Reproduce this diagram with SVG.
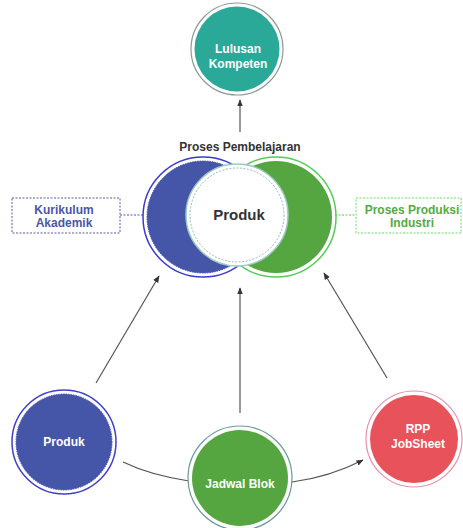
<svg xmlns="http://www.w3.org/2000/svg" width="463" height="528" viewBox="0 0 463 528">
  <style>
    .lbl { font-family: "Liberation Sans", Arial, sans-serif; font-weight: bold; text-anchor: middle; }
    .wt { fill: #ffffff; font-size: 12px; }
    .edge { fill: none; stroke: #555555; stroke-width: 1.2; }
    .dash { stroke-dasharray: 2 1.5; stroke-width: 1; }
  </style>
  <defs>
    <marker id="arr" viewBox="0 0 10 10" refX="9" refY="5" markerWidth="6" markerHeight="6" orient="auto-start-reverse">
      <path d="M0,1 L10,5 L0,9 z" fill="#333333"/>
    </marker>
  </defs>

  <!-- connectors -->
  <g id="connectors">
    <line class="edge" x1="240" y1="132" x2="240" y2="100" marker-end="url(#arr)"/>
    <line class="edge" x1="96" y1="383" x2="159" y2="276" marker-end="url(#arr)"/>
    <line class="edge" x1="240" y1="413" x2="240" y2="288" marker-end="url(#arr)"/>
    <line class="edge" x1="387" y1="378" x2="324" y2="273" marker-end="url(#arr)"/>
    <path class="edge" d="M123,462 Q150,475 189,481"/>
    <path class="edge" d="M292,482 Q330,477 363,460" marker-end="url(#arr)"/>
    <line class="dash" x1="120" y1="215" x2="143" y2="215" stroke="#4a56b0"/>
    <line class="dash" x1="335" y1="215" x2="356" y2="215" stroke="#55cc55"/>
  </g>

  <!-- top result -->
  <g id="lulusan">
    <circle cx="237" cy="49" r="46" fill="#ffffff" stroke="#8a9a96" stroke-width="1.2"/>
    <circle cx="237" cy="49" r="42.5" fill="#2aa898"/>
    <text class="lbl wt" x="238" y="53" font-size="13">Lulusan</text>
    <text class="lbl wt" x="238" y="68" font-size="13">Kompeten</text>
  </g>

  <text class="lbl" x="240" y="151" font-size="12" fill="#333333">Proses Pembelajaran</text>

  <!-- overlapping process circles -->
  <g id="akademik-circle">
    <circle cx="203" cy="217" r="60" fill="#ffffff" stroke="#3a3ad0" stroke-width="1.5"/>
    <circle cx="203" cy="217" r="56" fill="#4556a8" stroke="#3d4ea8" stroke-dasharray="1.5 1"/>
  </g>
  <g id="industri-circle">
    <circle cx="276" cy="217" r="60" fill="none" stroke="#55cc55" stroke-width="1.5"/>
    <circle cx="276" cy="217" r="56" fill="#55a640"/>
  </g>
  <g id="produk-center">
    <circle cx="237" cy="215" r="51" fill="#ffffff" stroke="#9fc9c0" stroke-width="1.5"/>
    <circle cx="237" cy="215" r="47" fill="none" stroke="#7aa8a8" stroke-width="0.8" stroke-dasharray="2 1.5"/>
    <text class="lbl" x="239" y="220" font-size="15" fill="#333333">Produk</text>
  </g>

  <!-- side boxes -->
  <g id="kurikulum">
    <rect class="dash" x="12" y="198" width="108" height="35" fill="#ffffff" stroke="#5a5aa8"/>
    <text class="lbl" x="64" y="214" font-size="12" fill="#4a56a8">Kurikulum</text>
    <text class="lbl" x="64" y="227" font-size="12" fill="#4a56a8">Akademik</text>
  </g>
  <g id="produksi">
    <rect class="dash" x="356" y="198" width="105" height="35" fill="#ffffff" stroke="#66dd66"/>
    <text class="lbl" x="412" y="214" font-size="12" fill="#55aa44">Proses Produksi</text>
    <text class="lbl" x="412" y="227" font-size="12" fill="#55aa44">Industri</text>
  </g>

  <!-- bottom sources -->
  <g id="produk-bawah">
    <circle cx="64" cy="442" r="52" fill="#ffffff" stroke="#4040cc" stroke-width="1.5"/>
    <circle cx="64" cy="442" r="48" fill="#4556a8" stroke="#4a50c0" stroke-dasharray="1.5 1"/>
    <text class="lbl wt" x="64" y="446" font-size="14">Produk</text>
  </g>
  <g id="jadwal">
    <circle cx="240" cy="478" r="52" fill="#ffffff" stroke="#6a9a9a" stroke-width="1.2"/>
    <circle cx="240" cy="478" r="48" fill="#55a640"/>
    <text class="lbl wt" x="240" y="488">Jadwal Blok</text>
  </g>
  <g id="rpp">
    <circle cx="414" cy="439" r="48" fill="#ffffff" stroke="#e890a8" stroke-width="1.2"/>
    <circle cx="414" cy="439" r="44" fill="#e8525a"/>
    <text class="lbl wt" x="418" y="433">RPP</text>
    <text class="lbl wt" x="418" y="448">JobSheet</text>
  </g>
</svg>
